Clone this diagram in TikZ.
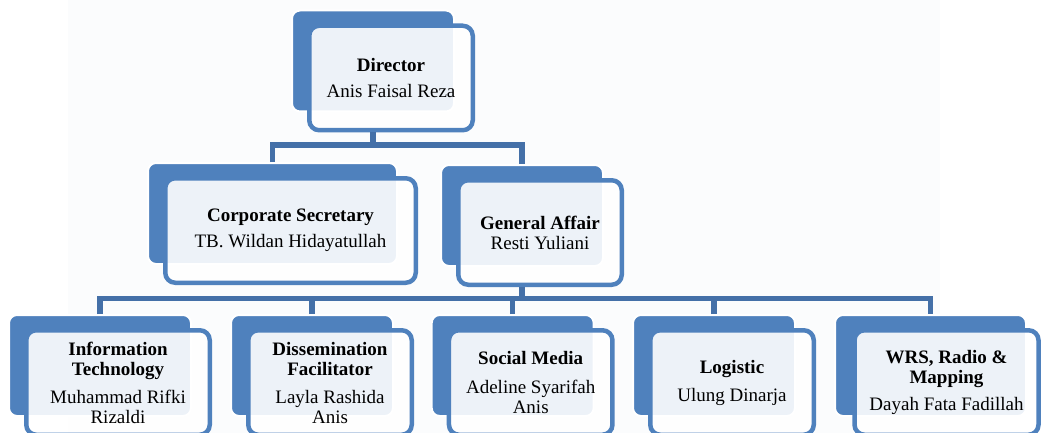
\documentclass[tikz,border=0pt]{standalone}
\usepackage{fontspec}
\setmainfont{Liberation Serif}

\definecolor{orgblue}{HTML}{4F81BD}
\definecolor{linkblue}{HTML}{4470A8}
\definecolor{paper}{HTML}{FBFCFD}

\begin{document}
\begin{tikzpicture}[x=1pt,y=-1pt,
        back/.style={rectangle,rounded corners=8pt,fill=orgblue,draw=white,line width=2pt,minimum height=101pt,inner sep=0pt},
        front/.style={rectangle,rounded corners=10pt,draw=orgblue,line width=4.5pt,fill=white,fill opacity=0.9,text opacity=1,minimum height=104.5pt,align=center,inner sep=2pt,font=\fontsize{19}{20}\selectfont},
        link/.style={draw=linkblue,line width=5.5pt}]
        \useasboundingbox (0,0) rectangle (1041,433);
        \clip (0,0) rectangle (1041,433);
        \fill[paper] (68,0) rectangle (940,433);

        \node [back,minimum width=162pt] (dir-back) at (373,61) {};
        \node [front,minimum width=163.5pt] (dir) at (391,78) {\textbf{Director}\\[6pt]Anis Faisal Reza};

        \node [back,minimum width=249pt] (cs-back) at (272.5,213.5) {};
        \node [front,minimum width=250.5pt] (cs) at (290.5,230.5) {\textbf{Corporate Secretary}\\[6pt]TB. Wildan Hidayatullah};
        \node [back,minimum width=162pt] (ga-back) at (522,215.5) {};
        \node [front,minimum width=163.5pt] (ga) at (540,232.5) {\textbf{General Affair}\\Resti Yuliani};

        \node [back,minimum width=182pt] (it-back) at (100,365.5) {};
        \node [front,minimum width=183.5pt] (it) at (118,382.5) {\textbf{Information}\\\textbf{Technology}\\[8pt]Muhammad Rifki\\Rizaldi};
        \node [back,minimum width=162pt] (df-back) at (312,365.5) {};
        \node [front,minimum width=163.5pt] (df) at (330,382.5) {\textbf{Dissemination}\\\textbf{Facilitator}\\[8pt]Layla Rashida\\Anis};
        \node [back,minimum width=162pt] (sm-back) at (512.7,365.5) {};
        \node [front,minimum width=163.5pt] (sm) at (530.7,382.5) {\textbf{Social Media}\\[9pt]Adeline Syarifah\\Anis};
        \node [back,minimum width=162pt] (lg-back) at (714,365.5) {};
        \node [front,minimum width=163.5pt] (lg) at (732,382.5) {\textbf{Logistic}\\[8pt]Ulung Dinarja};
        \node [back,minimum width=191pt] (wrs-back) at (930.5,365.5) {};
        \node [front,minimum width=184pt] (wrs) at (946.5,382.5) {\textbf{WRS, Radio \&}\\\textbf{Mapping}\\[7pt]Dayah Fata Fadillah};

        \coordinate (bus1) at (373,145);
        \coordinate (bus2) at (522,298.5);
        \draw[link] (dir.south -| dir-back) -- (bus1);
        \draw[link] (cs-back.north) |- (bus1) -| (ga-back.north);
        \draw[link] (ga.south -| ga-back) -- (bus2);
        \draw[link] (it-back.north) |- (bus2) -| (wrs-back.north);
        \foreach \n in {df,sm,lg}
                \draw[link] (\n-back.north) -- (\n-back |- bus2);
\end{tikzpicture}
\end{document}
